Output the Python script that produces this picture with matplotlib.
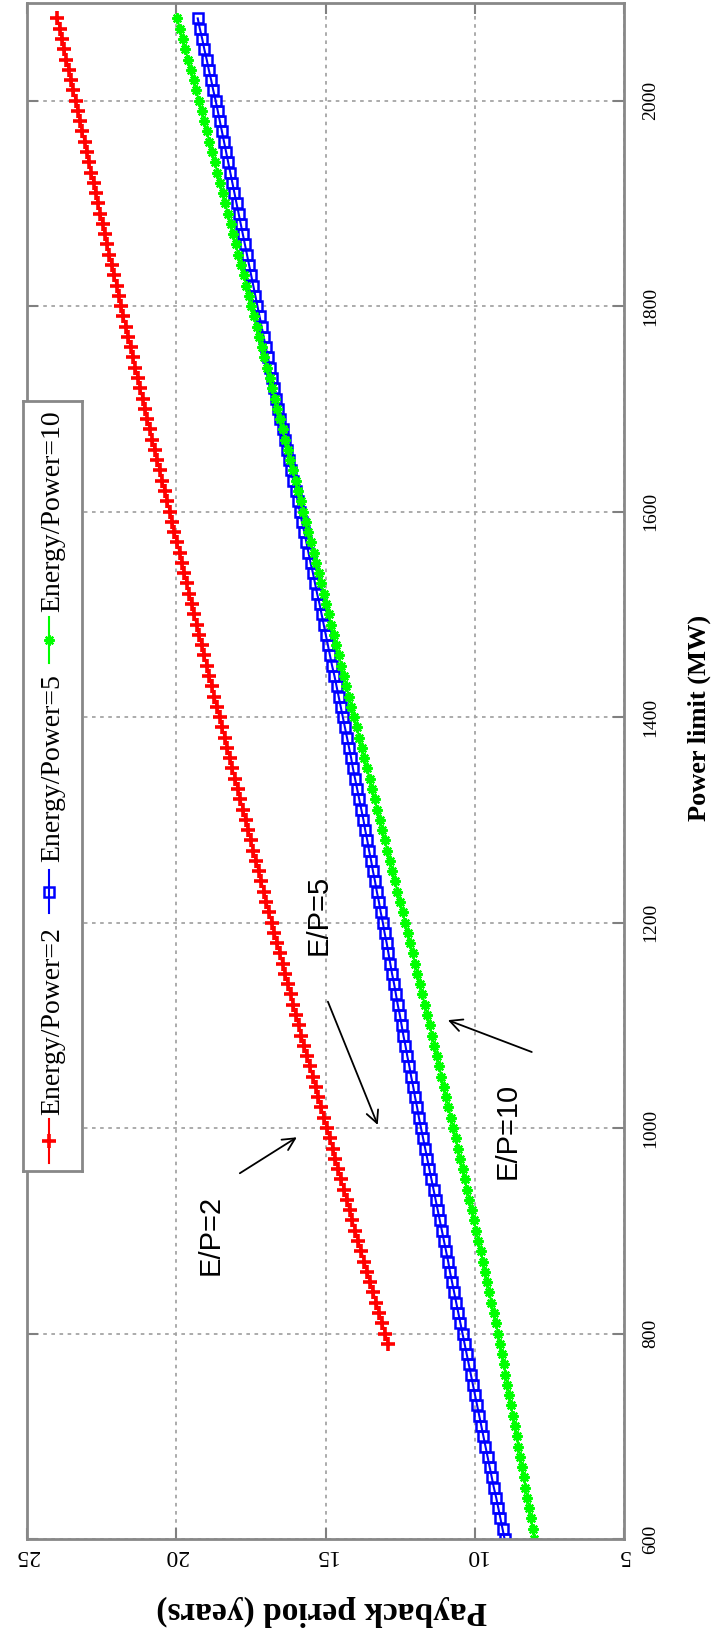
import numpy as np
import matplotlib.pyplot as plt

plt.rcParams['font.family'] = ['Liberation Serif', 'DejaVu Serif']

# power limit (MW), sampled every 10 MW
power_all = np.arange(600, 2081, 10)
power_red = np.arange(790, 2081, 10)

# payback period (years)
payback_ep2 = [12.90, 13.00,
               13.10, 13.20, 13.30, 13.40, 13.50, 13.60, 13.70, 13.80, 13.90, 14.00,
               14.10, 14.19, 14.29, 14.38, 14.48, 14.57, 14.67, 14.76, 14.86, 14.95,
               15.05, 15.14, 15.24, 15.33, 15.43, 15.52, 15.62, 15.71, 15.81, 15.90,
               15.99, 16.08, 16.17, 16.26, 16.35, 16.44, 16.53, 16.62, 16.71, 16.80,
               16.89, 16.98, 17.06, 17.15, 17.24, 17.33, 17.42, 17.50, 17.59, 17.68,
               17.77, 17.85, 17.94, 18.03, 18.12, 18.20, 18.29, 18.38, 18.46, 18.55,
               18.64, 18.72, 18.81, 18.89, 18.98, 19.06, 19.15, 19.23, 19.32, 19.40,
               19.48, 19.56, 19.65, 19.73, 19.81, 19.89, 19.97, 20.06, 20.14, 20.22,
               20.30, 20.39, 20.47, 20.55, 20.64, 20.72, 20.80, 20.88, 20.97, 21.05,
               21.13, 21.21, 21.29, 21.37, 21.45, 21.53, 21.61, 21.69, 21.77, 21.85,
               21.93, 22.00, 22.08, 22.16, 22.24, 22.31, 22.39, 22.47, 22.54, 22.62,
               22.70, 22.77, 22.85, 22.92, 23.00, 23.07, 23.15, 23.22, 23.30, 23.37,
               23.45, 23.52, 23.60, 23.68, 23.75, 23.83, 23.90, 23.98]

payback_ep5 = [9.00, 9.07, 9.14, 9.21, 9.28, 9.36, 9.43, 9.50, 9.57, 9.64, 9.71,
               9.78, 9.85, 9.92, 9.99, 10.06, 10.13, 10.20, 10.27, 10.34, 10.41,
               10.48, 10.55, 10.62, 10.69, 10.76, 10.83, 10.89, 10.96, 11.03, 11.10,
               11.17, 11.24, 11.31, 11.38, 11.45, 11.52, 11.59, 11.66, 11.73, 11.80,
               11.87, 11.93, 12.00, 12.06, 12.13, 12.19, 12.26, 12.32, 12.39, 12.45,
               12.51, 12.58, 12.64, 12.70, 12.77, 12.83, 12.89, 12.95, 13.02, 13.08,
               13.15, 13.21, 13.28, 13.34, 13.41, 13.47, 13.54, 13.60, 13.67, 13.73,
               13.80, 13.87, 13.94, 14.01, 14.08, 14.14, 14.21, 14.28, 14.35, 14.42,
               14.49, 14.56, 14.63, 14.70, 14.78, 14.85, 14.92, 14.99, 15.06, 15.13,
               15.20, 15.28, 15.35, 15.42, 15.50, 15.57, 15.64, 15.71, 15.79, 15.86,
               15.93, 16.00, 16.08, 16.15, 16.22, 16.29, 16.36, 16.44, 16.51, 16.58,
               16.65, 16.72, 16.79, 16.86, 16.93, 17.00, 17.07, 17.14, 17.21, 17.28,
               17.35, 17.42, 17.49, 17.56, 17.63, 17.70, 17.77, 17.84, 17.91, 17.98,
               18.05, 18.12, 18.19, 18.26, 18.33, 18.40, 18.47, 18.54, 18.61, 18.68,
               18.76, 18.83, 18.91, 18.98, 19.06, 19.13, 19.21, 19.28]

payback_ep10 = [8.00, 8.06, 8.12, 8.18, 8.24, 8.30, 8.36, 8.42, 8.48, 8.54, 8.60,
                8.66, 8.72, 8.79, 8.85, 8.91, 8.97, 9.03, 9.10, 9.16, 9.22,
                9.29, 9.37, 9.44, 9.51, 9.59, 9.66, 9.73, 9.80, 9.88, 9.95,
                10.03, 10.10, 10.18, 10.26, 10.34, 10.41, 10.49, 10.57, 10.64, 10.72,
                10.80, 10.88, 10.96, 11.04, 11.12, 11.19, 11.27, 11.35, 11.43, 11.51,
                11.59, 11.67, 11.76, 11.84, 11.92, 12.00, 12.08, 12.17, 12.25, 12.33,
                12.42, 12.50, 12.59, 12.67, 12.76, 12.84, 12.93, 13.01, 13.10, 13.18,
                13.27, 13.35, 13.44, 13.52, 13.61, 13.70, 13.78, 13.87, 13.95, 14.04,
                14.13, 14.21, 14.30, 14.38, 14.47, 14.55, 14.64, 14.72, 14.81, 14.89,
                14.98, 15.06, 15.15, 15.23, 15.32, 15.40, 15.49, 15.57, 15.66, 15.74,
                15.83, 15.91, 16.00, 16.09, 16.18, 16.26, 16.35, 16.44, 16.52, 16.61,
                16.70, 16.78, 16.87, 16.96, 17.05, 17.13, 17.22, 17.31, 17.39, 17.48,
                17.57, 17.66, 17.74, 17.83, 17.92, 18.01, 18.10, 18.18, 18.27, 18.36,
                18.45, 18.54, 18.62, 18.71, 18.80, 18.89, 18.98, 19.06, 19.15, 19.24,
                19.33, 19.42, 19.51, 19.60, 19.70, 19.79, 19.88, 19.97]

legend_labels = ["Energy/Power=2", "Energy/Power=5", "Energy/Power=10"]
year_ticks = [25, 20, 15, 10, 5]
power_ticks = [600, 800, 1000, 1200, 1400, 1600, 1800, 2000]

# the whole figure is drawn turned 90 degrees (power runs upwards)
W, H = 717, 1635
def fx(x):
    return x / W
def fy(y):
    return 1 - y / H

fig = plt.figure(figsize=(W / 100, H / 100), dpi=100)
ax = fig.add_axes([fx(27), fy(1539), fx(624) - fx(27), fy(3) - fy(1539)])

red_style = dict(color=(1, 0, 0), marker='+', ms=10, mew=2.6)
blue_style = dict(color=(0, 0, 1), marker='s', ms=7.5, mfc='none', mew=1.8)
green_style = dict(color=(0, 1, 0), marker=(8, 2, 0), ms=7.5, mew=1.6)

ax.plot(payback_ep2, power_red, lw=1.5, **red_style)
ax.plot(payback_ep5, power_all, lw=1.5, **blue_style)
ax.plot(payback_ep10, power_all, lw=1.5, **green_style)

ax.set_xlim(25, 5)
ax.set_ylim(600, 2095)
ax.set_xticks(year_ticks)
ax.set_yticks(power_ticks)
ax.yaxis.tick_right()
ax.tick_params(direction='in', length=8, color='#808080', width=1.5,
               top=True, bottom=True, left=True, right=True,
               labelleft=False, labelright=True)
ax.tick_params(axis='x', labelrotation=180, pad=4, labelsize=17)
ax.tick_params(axis='y', labelrotation=90, pad=13, labelsize=14)
for t in ax.get_yticklabels():
    t.set_va('center')
ax.grid(True, linestyle=(0, (2, 2.5)), color='#a5a5a5', linewidth=1.3)
ax.set_axisbelow(True)
for s in ax.spines.values():
    s.set_color('#888888')
    s.set_linewidth(2)

fig.text(fx(322), fy(1611), 'Payback period (years)', rotation=180,
         ha='center', va='center', fontsize=24, fontweight='bold')
fig.text(fx(699), fy(718), 'Power limit (MW)', rotation=90,
         ha='center', va='center', fontsize=19, fontweight='bold')

# annotations
sans = ['Liberation Sans', 'DejaVu Sans']
ax.text(18.84, 896, 'E/P=2', rotation=90, ha='center', va='center', fontsize=21, family=sans)
ax.text(15.24, 1207, 'E/P=5', rotation=90, ha='center', va='center', fontsize=21, family=sans)
ax.text(8.91, 997, 'E/P=10', rotation=90, ha='center', va='center', fontsize=21, family=sans)
arrow = dict(arrowstyle='->', color='black', lw=1.3, mutation_scale=22, shrinkA=0, shrinkB=0)
ax.annotate('', xy=(15.96, 991), xytext=(17.87, 956), arrowprops=arrow)
ax.annotate('', xy=(13.25, 1003), xytext=(14.92, 1123), arrowprops=arrow)
ax.annotate('', xy=(10.9, 1105), xytext=(8.09, 1074), arrowprops=arrow)

# legend, turned with the chart
lax = fig.add_axes([fx(23), fy(1171), fx(82) - fx(23), fy(401) - fy(1171)])
lax.set_xlim(0, 1)
lax.set_ylim(0, 1)
lax.set_xticks([])
lax.set_yticks([])
for s in lax.spines.values():
    s.set_color('#888888')
    s.set_linewidth(2)
ypos = lambda y: (1171 - y) / 770
seg = [(1163, 1119), (913, 870), (663, 617)]
text_bottom = [1115, 862, 612]
for st, (y0, y1), tb, lab in zip([red_style, blue_style, green_style], seg, text_bottom, legend_labels):
    lax.plot([0.44, 0.44], [ypos(y0), ypos(y1)], color=st['color'], lw=1.5)
    lax.plot([0.44], [ypos((y0 + y1) / 2)], ls='none', **st)
    lax.text(0.5, ypos(tb), lab, rotation=90, ha='center', va='bottom', fontsize=20)

fig.savefig('out.png', dpi=100)
